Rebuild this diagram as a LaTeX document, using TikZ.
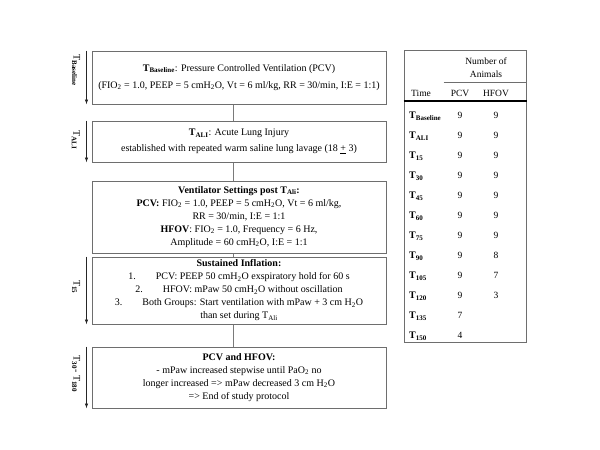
\documentclass[tikz,border=0pt]{standalone}
\usepackage{fontspec}
\setmainfont{Liberation Serif}
\usetikzlibrary{arrows.meta,calc}
\definecolor{boxgray}{HTML}{6E6E6E}
\definecolor{linegray}{HTML}{7A7A7A}
\begin{document}
\begin{tikzpicture}[x=1pt,y=-1pt,
 box/.style={draw=boxgray, line width=1pt, minimum width=294pt, align=center, inner sep=0pt, font=\fontsize{10}{13}\selectfont},
 conn/.style={draw=linegray, line width=1pt},
 tarrow/.style={draw=black!85, line width=0.8pt, -{Latex[length=5pt,width=3.5pt]}},
 tlabel/.style={rotate=-90, font=\fontsize{10}{12}\selectfont, inner sep=0pt},
 cell/.style={font=\fontsize{9.5}{11.5}\selectfont, inner sep=0pt},
 tline/.style={draw=boxgray, line width=0.8pt}
]
\useasboundingbox (0,0) rectangle (600,450);

% boxes
\node[box, minimum height=53pt] (b1) at (239,77.5)
 {\textbf{T\textsubscript{Baseline}}: Pressure Controlled Ventilation (PCV)\\[4pt]
  (FIO\textsubscript{2} = 1.0, PEEP = 5 cmH\textsubscript{2}O, Vt = 6 ml/kg, RR = 30/min, I:E = 1:1)};
\node[box, minimum height=41pt] (b2) at (239,141.5)
 {\textbf{T\textsubscript{ALI}}: Acute Lung Injury\\[3pt]
  established with repeated warm saline lung lavage (18 \underline{+} 3)};
\node[box, minimum height=72pt] (b3) at (239,217)
 {\textbf{Ventilator Settings post T\textsubscript{Ali}:}\\
  \textbf{PCV:} FIO\textsubscript{2} = 1.0, PEEP = 5 cmH\textsubscript{2}O, Vt = 6 ml/kg,\\
  RR = 30/min, I:E = 1:1\\
  \textbf{HFOV}: FIO\textsubscript{2} = 1.0, Frequency = 6 Hz,\\
  Amplitude = 60 cmH\textsubscript{2}O, I:E = 1:1};
\node[box, minimum height=67pt] (b4) at (239,290.5)
 {\textbf{Sustained Inflation:}\\
  1.\hspace{2em}PCV: PEEP 50 cmH\textsubscript{2}O exspiratory hold for 60 s\\
  2.\hspace{2em}HFOV: mPaw 50 cmH\textsubscript{2}O without oscillation\\
  3.\hspace{2em}Both Groups: Start ventilation with mPaw + 3 cm H\textsubscript{2}O\\
  than set during T\textsubscript{Ali}};
\node[box, minimum height=61pt] (b5) at (239,377.5)
 {\textbf{PCV and HFOV:}\\
  - mPaw increased stepwise until PaO\textsubscript{2} no\\
  longer increased =\kern0pt> mPaw decreased 3 cm H\textsubscript{2}O\\
  =\kern0pt> End of study protocol};

% connectors
\draw[conn] ([xshift=-6pt]b1.south) -- ([xshift=-6pt]b2.north);
\draw[conn] ([xshift=-6pt]b2.south) -- ([xshift=-6pt]b3.north);
\draw[conn] ([xshift=-6pt]b3.south) -- ([xshift=-6pt]b4.north);
\draw[conn] ([xshift=-6pt]b4.south) -- ([xshift=-6pt]b5.north);

% time arrows
\draw[tarrow] ([xshift=-5pt]b1.north west) -- ([xshift=-5pt]b1.south west);
\draw[tarrow] ([xshift=-5pt]b2.north west) -- ([xshift=-5pt]b2.south west);
\draw[tarrow] ([xshift=-5pt]b4.north west) -- ([xshift=-5pt]b4.south west);
\draw[tarrow] ([xshift=-5pt]b5.north west) -- ([xshift=-5pt]b5.south west);
\node[tlabel] (l1) at (76,70) {T\textsubscript{\textbf{Baseline}}};
\node[tlabel] (l2) at (76,140) {T\textsubscript{\textbf{ALI}}};
\node[tlabel] (l4) at (76,287) {T\textsubscript{\textbf{15}}};
\node[tlabel] (l5) at (76,374) {T\textsubscript{\textbf{30}}- T\textsubscript{\textbf{180}}};

% table
\node[draw=boxgray, line width=1pt, minimum width=122pt, minimum height=292pt, inner sep=0pt] (tbl) at (465,196) {};
\draw[tline] ([xshift=40pt,yshift=-33pt]tbl.north west) -- ([yshift=-33pt]tbl.north east);
\draw[draw=black, line width=2pt] ([yshift=-51pt]tbl.north west) -- ([yshift=-51pt]tbl.north east);
\node[cell] (hn1) at (486,61) {Number of};
\node[cell] (hn2) at (486,74) {Animals};
\node[cell, anchor=base west] (ht) at (411,96) {Time};
\node[cell, anchor=base] (hp) at (460,96) {PCV};
\node[cell, anchor=base] (hh) at (496,96) {HFOV};
\foreach \lab/\p/\h [count=\i from 0] in {Baseline/9/9, ALI/9/9, 15/9/9, 30/9/9, 45/9/9, 60/9/9, 75/9/9, 90/9/8, 105/9/7, 120/9/3, 135/7/{}, 150/4/{}} {
  \node[cell, anchor=base west, font=\fontsize{10}{12}\selectfont] (t\i) at (409, 118.5+20*\i) {\textbf{T\textsubscript{\lab}}};
  \node[cell, anchor=base] (p\i) at (460, 118.5+20*\i) {\p};
  \node[cell, anchor=base] (h\i) at (496, 118.5+20*\i) {\h};
}
\end{tikzpicture}
\end{document}
